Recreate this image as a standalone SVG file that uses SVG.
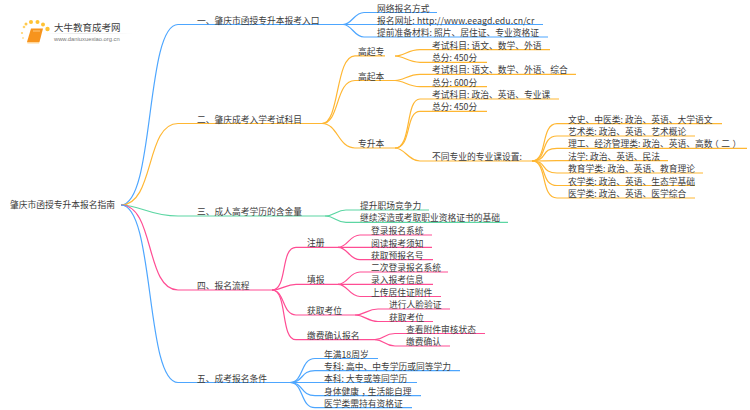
<svg xmlns="http://www.w3.org/2000/svg" width="750" height="410" viewBox="0 0 750 410">
<defs>
<style>
text{font-family:"Noto Sans CJK SC","Liberation Sans",sans-serif;font-size:8.75px;fill:#3c3c3c}
.c{fill:none;stroke-width:1.2}
.b{stroke:#4da6ff}.o{stroke:#ffb733}.g{stroke:#5cd6a3}.p{stroke:#ff4d94}
</style>
<linearGradient id="rule"><stop offset="0" stop-color="#ddd" stop-opacity="0"/><stop offset=".4" stop-color="#ddd"/><stop offset="1" stop-color="#ddd" stop-opacity="0"/></linearGradient>
</defs>
<g id="connectors">
<path class="c b" d="M121 205C155 205 145 24.500 178 24.500H343"/>
<path class="c o" d="M121 205C155 205 145 123.500 178 123.500H322"/>
<path class="c g" d="M121 205C140 205 150 216 178 216H325"/>
<path class="c p" d="M121 205C155 205 145 290 178 290H272"/>
<path class="c b" d="M121 205C155 205 145 382.500 178 382.500H290"/>
<path class="c b" d="M343 24.500C352 24.500 354 12.500 364 12.500H437"/>
<path class="c b" d="M343 24.500H543"/>
<path class="c b" d="M343 24.500C352 24.500 354 37 364 37H548"/>
<path class="c o" d="M322 123.500C340 123.500 335 55.800 355 55.800H385"/>
<path class="c o" d="M322 123.500C340 123.500 335 80.500 355 80.500H395"/>
<path class="c o" d="M322 123.500C338 123.500 338 148 355 148H395"/>
<path class="c o" d="M395 56C404 56 408 49.700 420 49.700H550"/>
<path class="c o" d="M395 56C404 56 408 62.300 420 62.300H487"/>
<path class="c o" d="M395 80.500C404 80.500 408 74.300 420 74.300H576"/>
<path class="c o" d="M395 80.500C404 80.500 408 86.700 420 86.700H487"/>
<path class="c o" d="M395 148C412 148 405 99 420 99H559"/>
<path class="c o" d="M395 148C412 148 405 111.300 420 111.300H487"/>
<path class="c o" d="M395 148C405 148 408 161 420 161H532"/>
<path class="c o" d="M532 161C548 161 540 123.700 557 123.700H722"/>
<path class="c o" d="M532 161C548 161 540 136 557 136H695"/>
<path class="c o" d="M532 161C548 161 540 148.300 557 148.300H747"/>
<path class="c o" d="M532 161C545 161 545 160.700 557 160.700H668"/>
<path class="c o" d="M532 161C548 161 540 173 557 173H703"/>
<path class="c o" d="M532 161C548 161 540 185.500 557 185.500H695"/>
<path class="c o" d="M532 161C548 161 540 198 557 198H695"/>
<path class="c g" d="M325 216C335 216 336 210 346 210H429"/>
<path class="c g" d="M325 216C335 216 336 222.300 346 222.300H508"/>
<path class="c p" d="M272 290C288 290 280 247.300 296 247.300H338"/>
<path class="c p" d="M272 290C283 290 285 284.300 296 284.300H338"/>
<path class="c p" d="M272 290C285 290 282 315 296 315H355"/>
<path class="c p" d="M272 290C288 290 280 339.700 296 339.700H375"/>
<path class="c p" d="M338 247.300C348 247.300 349 235 360 235H432"/>
<path class="c p" d="M338 247.300H432"/>
<path class="c p" d="M338 247.300C348 247.300 349 259.700 360 259.700H433"/>
<path class="c p" d="M338 284.300C348 284.300 349 272 360 272H448"/>
<path class="c p" d="M338 284.300H433"/>
<path class="c p" d="M338 284.300C348 284.300 349 296.500 360 296.500H441"/>
<path class="c p" d="M355 315C365 315 367 309 378 309H450"/>
<path class="c p" d="M355 315C365 315 367 321.500 378 321.500H433"/>
<path class="c p" d="M375 339.700C384 339.700 384 333.500 395 333.500H485"/>
<path class="c p" d="M375 339.700C384 339.700 384 346 395 346H450"/>
<path class="c b" d="M290 382.500C304 382.500 300 358.500 315 358.500H378"/>
<path class="c b" d="M290 382.500C304 382.500 300 370.700 315 370.700H460"/>
<path class="c b" d="M290 382.500H417"/>
<path class="c b" d="M290 382.500C304 382.500 300 395.700 315 395.700H421"/>
<path class="c b" d="M290 382.500C304 382.500 300 407.700 315 407.700H412"/>
</g>
<g id="logo">
<circle cx="24" cy="27" r="1.300" fill="#ffd36b"/><circle cx="22" cy="33" r="1.100" fill="#ffd36b"/><circle cx="26" cy="24" r="1.500" fill="#ffc94d"/><circle cx="31" cy="22" r="2" fill="#ffc233"/><circle cx="37.500" cy="22" r="2" fill="#ffc233"/><circle cx="43" cy="24.500" r="2" fill="#ffc233"/><circle cx="47.500" cy="29" r="2.200" fill="#ffc233"/><circle cx="23" cy="38" r="1" fill="#ffe09a"/>
<path d="M31 28.500H43L39.500 42H27Z" fill="#f7941d"/><path d="M27 42H39.500L39 43.500H27.500Z" fill="#ffd699"/>
<path d="M33 31H40" stroke="#ffe3b0" stroke-width=".7"/>
<rect x="45" y="33" width="88" height=".7" fill="url(#rule)"/>
<text x="54" y="31" style="font-size:9.500px">大牛教育成考网</text>
<text x="54" y="41" style="font-size:5.800px;fill:#777;font-family:'Liberation Sans',sans-serif">www.daniuxuexiao.org.cn</text>
</g>
<g id="root"><text x="10" y="208">肇庆市函授专升本报名指南</text></g>
<g id="n1"><text x="197" y="23.500">一、肇庆市函授专升本报考入口</text></g>
<g id="n1-1"><text x="377" y="11.500">网络报名方式</text></g>
<g id="n1-2"><text x="377" y="23.500" letter-spacing=".09">报名网址: http://www.eeagd.edu.cn/cr</text></g>
<g id="n1-3"><text x="377" y="36">提前准备材料: 照片、居住证、专业资格证</text></g>
<g id="n2"><text x="197" y="122.500">二、肇庆成考入学考试科目</text></g>
<g id="n2-1"><text x="358" y="54.500">高起专</text></g>
<g id="n2-1-1"><text x="432" y="48.500">考试科目: 语文、数学、外语</text></g>
<g id="n2-1-2"><text x="432" y="61">总分: 450分</text></g>
<g id="n2-2"><text x="358" y="79.500">高起本</text></g>
<g id="n2-2-1"><text x="432" y="73">考试科目: 语文、数学、外语、综合</text></g>
<g id="n2-2-2"><text x="432" y="85.500">总分: 600分</text></g>
<g id="n2-3"><text x="358" y="147">专升本</text></g>
<g id="n2-3-1"><text x="432" y="98">考试科目: 政治、英语、专业课</text></g>
<g id="n2-3-2"><text x="432" y="110">总分: 450分</text></g>
<g id="n2-3-3"><text x="432" y="160">不同专业的专业课设置:</text></g>
<g id="s1"><text x="568" y="122.500">文史、中医类: 政治、英语、大学语文</text></g>
<g id="s2"><text x="568" y="135">艺术类: 政治、英语、艺术概论</text></g>
<g id="s3"><text x="568" y="147" dx="0 0 0 0 0 0 0 0 0 0 0 0 0 0 0 0 0 0 -2.500 2.500 2.500">理工、经济管理类: 政治、英语、高数（二）</text></g>
<g id="s4"><text x="568" y="159.500">法学: 政治、英语、民法</text></g>
<g id="s5"><text x="568" y="172">教育学类: 政治、英语、教育理论</text></g>
<g id="s6"><text x="568" y="184.500">农学类: 政治、英语、生态学基础</text></g>
<g id="s7"><text x="568" y="197">医学类: 政治、英语、医学综合</text></g>
<g id="n3"><text x="197" y="215">三、成人高考学历的含金量</text></g>
<g id="n3-1"><text x="360" y="209">提升职场竞争力</text></g>
<g id="n3-2"><text x="360" y="221">继续深造或考取职业资格证书的基础</text></g>
<g id="n4"><text x="197" y="289">四、报名流程</text></g>
<g id="n4-1"><text x="307" y="246">注册</text></g>
<g id="n4-1-1"><text x="371" y="234">登录报名系统</text></g>
<g id="n4-1-2"><text x="371" y="246.500">阅读报考须知</text></g>
<g id="n4-1-3"><text x="371" y="258.500">获取预报名号</text></g>
<g id="n4-2"><text x="307" y="283">填报</text></g>
<g id="n4-2-1"><text x="371" y="271">二次登录报名系统</text></g>
<g id="n4-2-2"><text x="371" y="283">录入报考信息</text></g>
<g id="n4-2-3"><text x="371" y="295.500">上传居住证附件</text></g>
<g id="n4-3"><text x="307" y="314">获取考位</text></g>
<g id="n4-3-1"><text x="389" y="308">进行人脸验证</text></g>
<g id="n4-3-2"><text x="389" y="320.500">获取考位</text></g>
<g id="n4-4"><text x="307" y="338.500">缴费确认报名</text></g>
<g id="n4-4-1"><text x="406" y="332.500">查看附件审核状态</text></g>
<g id="n4-4-2"><text x="406" y="345">缴费确认</text></g>
<g id="n5"><text x="197" y="381.500">五、成考报名条件</text></g>
<g id="n5-1"><text x="324" y="357.500">年满18周岁</text></g>
<g id="n5-2"><text x="324" y="369.500">专科: 高中、中专学历或同等学力</text></g>
<g id="n5-3"><text x="324" y="382">本科: 大专或等同学历</text></g>
<g id="n5-4"><text x="324" y="394.500" dx="0 0 0 0 2.500 -2.500">身体健康，生活能自理</text></g>
<g id="n5-5"><text x="324" y="407">医学类需持有资格证</text></g>
</svg>
